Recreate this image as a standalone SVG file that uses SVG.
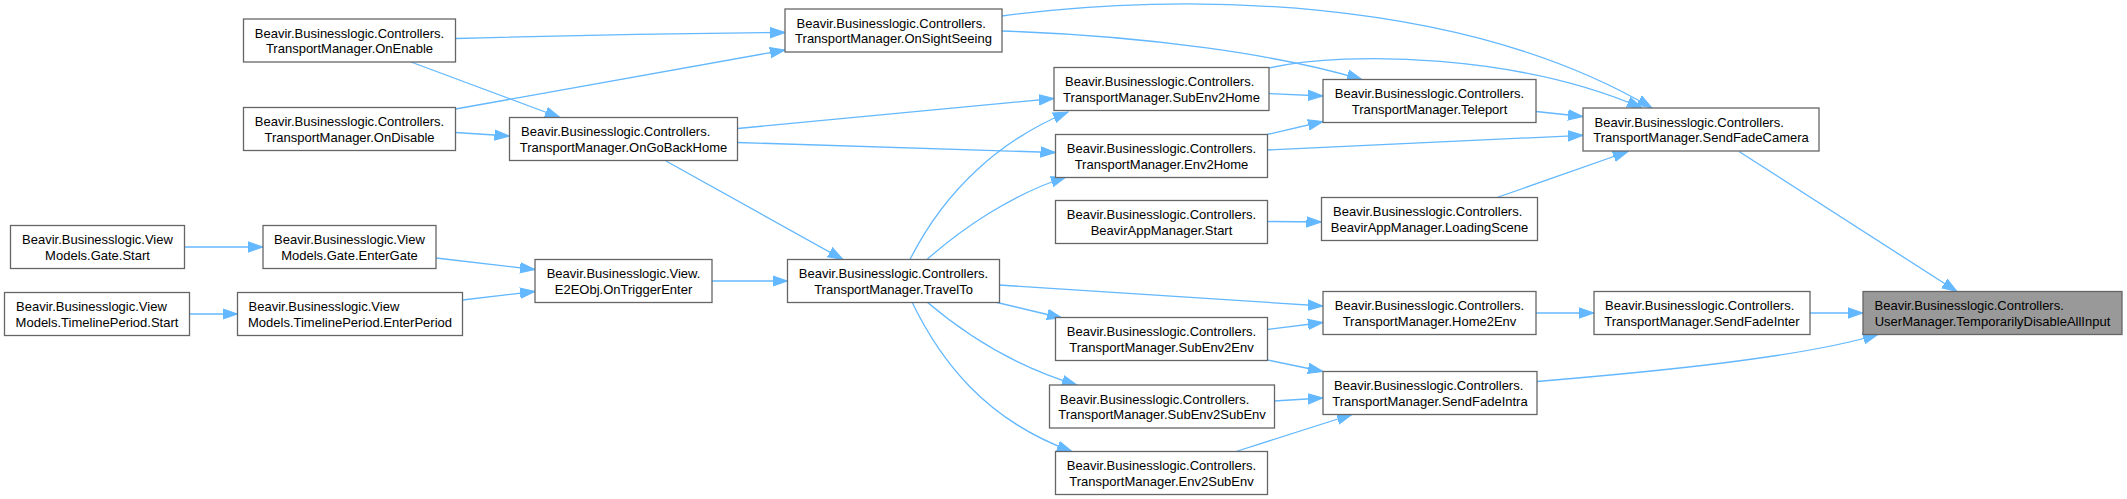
<svg xmlns="http://www.w3.org/2000/svg" width="2127" height="499" viewBox="0 0 2127 499">
<defs>
<marker id="ah" markerUnits="userSpaceOnUse" markerWidth="16" markerHeight="12" refX="15" refY="6" orient="auto">
<path d="M0,0.8 L15,6 L0,11.2 z" fill="#63b8ff" stroke="#63b8ff" stroke-width="1"/>
</marker>
<style>
.e{fill:none;stroke:#63b8ff;stroke-width:1.3;marker-end:url(#ah)}
.n rect{fill:#fff;stroke:#666;stroke-width:1.3}
.n text{font-family:"Liberation Sans",Arial,sans-serif;font-size:13px;fill:#000}
.c{text-anchor:middle}
.hl rect{fill:#999}
</style>
</defs>
<rect width="2127" height="499" fill="#fff"/>
<g id="edges">
<path class="e" d="M184.5,247 L263,247"/>
<path class="e" d="M189.5,314 L237.5,314"/>
<path class="e" d="M436,258 L535,269.5"/>
<path class="e" d="M462.5,300 L535,291.5"/>
<path class="e" d="M712,281 L787.5,281"/>
<path class="e" d="M455.5,38.5 Q620,34 785,32.5"/>
<path class="e" d="M455.5,109 L785,50"/>
<path class="e" d="M411,62 L560,117.5"/>
<path class="e" d="M455.5,132.5 L509.5,136"/>
<path class="e" d="M737.5,128.5 L1054,98.5"/>
<path class="e" d="M737.5,142.5 L1055.5,152.5"/>
<path class="e" d="M666,161 L843,259.5"/>
<path class="e" d="M910,259.5 C945,190 1000,140 1068,112"/>
<path class="e" d="M927,259.5 C960,230 1010,195 1066,177"/>
<path class="e" d="M999,285 L1323,306"/>
<path class="e" d="M995,302 L1062,318"/>
<path class="e" d="M927,302 C960,330 1010,365 1077,385"/>
<path class="e" d="M912,302 C940,360 985,420 1072,451.5"/>
<path class="e" d="M1002,16 C1180,-8 1460,-5 1652,108"/>
<path class="e" d="M1002,31 C1150,36 1280,55 1362,79.5"/>
<path class="e" d="M1269,68 C1350,50 1520,55 1642,108"/>
<path class="e" d="M1269,93.5 L1323,96"/>
<path class="e" d="M1267,134.5 L1323,121.5"/>
<path class="e" d="M1267,150 L1583,135.3"/>
<path class="e" d="M1536,111.5 L1583,116.5"/>
<path class="e" d="M1267.5,221.5 L1321.5,222"/>
<path class="e" d="M1497,197.5 L1628,151.5"/>
<path class="e" d="M1739,151.5 L1957,291.5"/>
<path class="e" d="M1536,313 L1594,313"/>
<path class="e" d="M1810,313 L1863,313"/>
<path class="e" d="M1537,381.5 C1650,372 1800,358 1878,334.5"/>
<path class="e" d="M1267.5,329.5 L1323,322.5"/>
<path class="e" d="M1267.5,360 L1323,371.5"/>
<path class="e" d="M1274,401 L1323,398"/>
<path class="e" d="M1236,451.5 L1352,414.5"/>
</g>
<g id="n1" class="n"><rect x="10.5" y="225.5" width="174" height="43"/><text class="c" x="97.5" y="244">Beavir.Businesslogic.View</text><text class="c" x="97.5" y="259.5">Models.Gate.Start</text></g>
<g id="n2" class="n"><rect x="4.5" y="292.5" width="185" height="43"/><text x="16" y="311">Beavir.Businesslogic.View</text><text class="c" x="97" y="326.5">Models.TimelinePeriod.Start</text></g>
<g id="n3" class="n"><rect x="263" y="225.5" width="173" height="43"/><text class="c" x="349.5" y="244">Beavir.Businesslogic.View</text><text class="c" x="349.5" y="259.5">Models.Gate.EnterGate</text></g>
<g id="n4" class="n"><rect x="237.5" y="292.5" width="225" height="43"/><text x="248.5" y="311">Beavir.Businesslogic.View</text><text class="c" x="350" y="326.5">Models.TimelinePeriod.EnterPeriod</text></g>
<g id="n5" class="n"><rect x="535" y="259.5" width="177" height="43"/><text class="c" x="623.5" y="278">Beavir.Businesslogic.View.</text><text class="c" x="623.5" y="293.5">E2EObj.OnTriggerEnter</text></g>
<g id="n6" class="n"><rect x="243.5" y="19" width="212" height="43"/><text class="c" x="349.5" y="37.5">Beavir.Businesslogic.Controllers.</text><text class="c" x="349.5" y="53">TransportManager.OnEnable</text></g>
<g id="n7" class="n"><rect x="243.5" y="107.5" width="212" height="43"/><text class="c" x="349.5" y="126">Beavir.Businesslogic.Controllers.</text><text class="c" x="349.5" y="141.5">TransportManager.OnDisable</text></g>
<g id="n8" class="n"><rect x="509.5" y="117.5" width="228" height="43"/><text x="521" y="136">Beavir.Businesslogic.Controllers.</text><text class="c" x="623.5" y="151.5">TransportManager.OnGoBackHome</text></g>
<g id="n9" class="n"><rect x="785" y="9" width="217" height="43"/><text x="796.5" y="27.5">Beavir.Businesslogic.Controllers.</text><text class="c" x="893.5" y="43">TransportManager.OnSightSeeing</text></g>
<g id="n10" class="n"><rect x="787.5" y="259.5" width="212" height="43"/><text class="c" x="893.5" y="278">Beavir.Businesslogic.Controllers.</text><text class="c" x="893.5" y="293.5">TransportManager.TravelTo</text></g>
<g id="n11" class="n"><rect x="1054" y="67.5" width="215" height="43"/><text x="1065" y="86">Beavir.Businesslogic.Controllers.</text><text class="c" x="1161.5" y="101.5">TransportManager.SubEnv2Home</text></g>
<g id="n12" class="n"><rect x="1055.5" y="134.5" width="212" height="43"/><text class="c" x="1161.5" y="153">Beavir.Businesslogic.Controllers.</text><text class="c" x="1161.5" y="168.5">TransportManager.Env2Home</text></g>
<g id="n13" class="n"><rect x="1055.5" y="200.5" width="212" height="43"/><text class="c" x="1161.5" y="219">Beavir.Businesslogic.Controllers.</text><text class="c" x="1161.5" y="234.5">BeavirAppManager.Start</text></g>
<g id="n14" class="n"><rect x="1055.5" y="317.5" width="212" height="43"/><text class="c" x="1161.5" y="336">Beavir.Businesslogic.Controllers.</text><text class="c" x="1161.5" y="351.5">TransportManager.SubEnv2Env</text></g>
<g id="n15" class="n"><rect x="1049.5" y="385" width="225" height="43"/><text x="1060" y="403.5">Beavir.Businesslogic.Controllers.</text><text class="c" x="1162" y="419">TransportManager.SubEnv2SubEnv</text></g>
<g id="n16" class="n"><rect x="1055.5" y="451.5" width="212" height="43"/><text class="c" x="1161.5" y="470">Beavir.Businesslogic.Controllers.</text><text class="c" x="1161.5" y="485.5">TransportManager.Env2SubEnv</text></g>
<g id="n17" class="n"><rect x="1323" y="79.5" width="213" height="43"/><text class="c" x="1429.5" y="98">Beavir.Businesslogic.Controllers.</text><text class="c" x="1429.5" y="113.5">TransportManager.Teleport</text></g>
<g id="n18" class="n"><rect x="1321.5" y="197.5" width="216" height="43"/><text x="1333" y="216">Beavir.Businesslogic.Controllers.</text><text class="c" x="1429.5" y="231.5">BeavirAppManager.LoadingScene</text></g>
<g id="n19" class="n"><rect x="1323" y="291.5" width="213" height="43"/><text class="c" x="1429.5" y="310">Beavir.Businesslogic.Controllers.</text><text class="c" x="1429.5" y="325.5">TransportManager.Home2Env</text></g>
<g id="n20" class="n"><rect x="1323" y="371.5" width="214" height="43"/><text x="1334" y="390">Beavir.Businesslogic.Controllers.</text><text class="c" x="1430" y="405.5">TransportManager.SendFadeIntra</text></g>
<g id="n21" class="n"><rect x="1583" y="108" width="236" height="43"/><text x="1594.5" y="126.5">Beavir.Businesslogic.Controllers.</text><text class="c" x="1701" y="142">TransportManager.SendFadeCamera</text></g>
<g id="n22" class="n"><rect x="1594" y="291.5" width="216" height="43"/><text x="1605" y="310">Beavir.Businesslogic.Controllers.</text><text class="c" x="1702" y="325.5">TransportManager.SendFadeInter</text></g>
<g id="n23" class="n hl"><rect x="1863" y="291.5" width="259" height="43"/><text x="1874.5" y="310">Beavir.Businesslogic.Controllers.</text><text class="c" x="1992.5" y="325.5">UserManager.TemporarilyDisableAllInput</text></g>
</svg>
